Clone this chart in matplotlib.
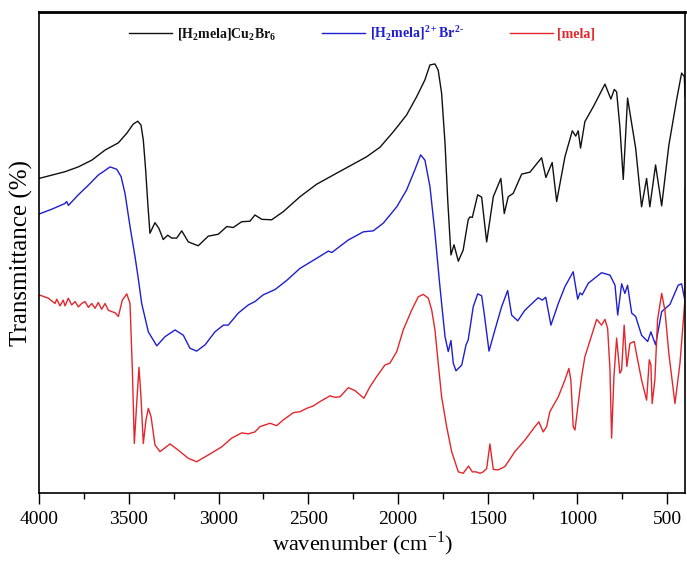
import matplotlib
matplotlib.use("Agg")
import matplotlib.pyplot as plt

plt.rcParams['font.family'] = ['Liberation Serif', 'DejaVu Serif']
plt.rcParams['mathtext.fontset'] = 'custom'
plt.rcParams['mathtext.rm'] = 'Liberation Serif'
plt.rcParams['mathtext.bf'] = 'Liberation Serif:bold'

# [H2mela]Cu2Br6
black_wn = [4000, 3855, 3781, 3706, 3632, 3558, 3511, 3475, 3450, 3432, 3419, 3406,
            3394, 3382, 3354, 3332, 3308, 3283, 3261, 3233, 3205, 3168, 3113, 3057,
            3001, 2954, 2918, 2871, 2825, 2797, 2759, 2704, 2639, 2546, 2453, 2361,
            2268, 2175, 2100, 2026, 1952, 1896, 1850, 1822, 1794, 1776, 1757, 1738,
            1723, 1705, 1688, 1664, 1637, 1609, 1599, 1586, 1556, 1534, 1506, 1469,
            1427, 1408, 1386, 1358, 1311, 1265, 1200, 1176, 1141, 1116, 1070, 1029,
            1010, 996, 983, 959, 912, 847, 814, 795, 782, 764, 745, 721, 702, 676,
            643, 615, 597, 565, 531, 491, 448, 420, 405, 400]
black_t = [65.4, 66.8, 67.8, 69.2, 71.3, 72.8, 74.8, 76.7, 77.3, 76.5, 73.4, 67.2,
           60.2, 54.0, 56.2, 55.0, 52.7, 53.6, 53.0, 53.0, 54.5, 52.2, 51.4, 53.4,
           53.8, 55.4, 55.2, 56.4, 56.5, 57.8, 56.9, 56.8, 58.5, 61.6, 64.2, 66.1,
           68.0, 69.9, 71.9, 75.1, 78.6, 82.4, 85.9, 89.0, 89.2, 87.9, 83.1, 72.7,
           60.9, 49.5, 51.6, 48.2, 50.5, 56.8, 57.4, 57.3, 62.0, 61.5, 52.2, 61.6,
           65.4, 58.1, 61.6, 62.3, 66.3, 66.7, 69.7, 65.6, 68.7, 60.6, 69.9, 75.3,
           74.2, 75.3, 71.7, 77.2, 80.3, 85.0, 81.9, 83.9, 83.4, 76.2, 65.2, 82.1,
           77.7, 71.7, 59.5, 65.4, 59.5, 68.2, 59.7, 72.3, 81.7, 87.3, 86.6, 82.4]

# [H2mela]2+Br2-
blue_wn = [4000, 3929, 3855, 3846, 3836, 3781, 3725, 3670, 3642, 3604, 3567, 3543,
           3521, 3493, 3465, 3447, 3428, 3391, 3344, 3298, 3242, 3196, 3159, 3122,
           3075, 3020, 2973, 2946, 2890, 2834, 2797, 2751, 2685, 2620, 2546, 2453,
           2388, 2368, 2351, 2277, 2193, 2138, 2082, 2007, 1952, 1906, 1874, 1850,
           1822, 1794, 1770, 1757, 1738, 1720, 1705, 1692, 1677, 1645, 1621, 1609,
           1581, 1556, 1534, 1520, 1493, 1460, 1423, 1389, 1367, 1333, 1293, 1219,
           1196, 1177, 1148, 1107, 1070, 1024, 999, 986, 974, 940, 866, 819, 791,
           776, 754, 736, 721, 698, 676, 643, 609, 591, 565, 531, 485, 439, 420, 402]
blue_t = [58.0, 59.0, 60.2, 60.6, 59.8, 62.0, 64.0, 66.1, 66.8, 67.8, 67.3, 65.8,
          62.3, 55.4, 49.1, 44.6, 39.4, 33.5, 30.6, 32.5, 33.9, 32.8, 30.1, 29.5,
          30.8, 33.5, 34.9, 34.9, 37.4, 39.1, 39.8, 41.2, 42.3, 44.2, 46.7, 48.8,
          50.3, 50.0, 50.5, 52.6, 54.3, 54.5, 56.1, 59.5, 63.0, 67.2, 70.3, 69.2,
          63.7, 54.0, 44.3, 39.4, 32.5, 29.4, 31.7, 27.0, 25.4, 26.6, 30.8, 31.8,
          38.7, 41.4, 41.0, 37.4, 29.5, 33.9, 38.7, 42.1, 37.0, 35.8, 38.0, 40.6,
          40.1, 40.7, 34.9, 39.4, 42.9, 46.0, 40.3, 41.6, 41.2, 43.6, 45.8, 45.3, 43.2,
          37.0, 43.5, 41.5, 43.2, 37.4, 36.7, 32.8, 31.5, 33.5, 30.8, 37.7, 39.2, 43.2, 43.5, 40.1]

# [mela]
red_wn = [4000, 3948, 3911, 3901, 3883, 3865, 3855, 3837, 3818, 3799, 3781, 3762,
          3744, 3725, 3706, 3688, 3670, 3651, 3632, 3614, 3595, 3577, 3558, 3536,
          3511, 3493, 3480, 3469, 3456, 3443, 3432, 3419, 3404, 3391, 3376, 3354,
          3326, 3270, 3224, 3168, 3122, 3057, 2982, 2927, 2871, 2834, 2797, 2769,
          2713, 2676, 2639, 2583, 2546, 2509, 2472, 2435, 2379, 2351, 2323, 2277,
          2240, 2190, 2156, 2119, 2073, 2045, 2007, 1971, 1924, 1887, 1859, 1831,
          1812, 1794, 1776, 1757, 1729, 1701, 1664, 1637, 1607, 1586, 1566, 1543,
          1525, 1506, 1488, 1469, 1442, 1404, 1349, 1293, 1237, 1215, 1191, 1172,
          1154, 1107, 1070, 1048, 1037, 1024, 1014, 996, 977, 959, 921, 893, 866,
          847, 832, 819, 810, 797, 782, 764, 754, 740, 725, 708, 684, 665, 643,
          615, 600, 591, 584, 569, 554, 531, 513, 491, 457, 429, 403, 400]
red_t = [41.2, 40.5, 39.4, 40.3, 38.9, 40.1, 38.9, 40.5, 39.1, 39.8, 38.7, 39.4,
         39.8, 38.6, 39.4, 38.4, 39.6, 38.2, 39.4, 38.0, 37.7, 37.5, 36.7, 40.1,
         41.4, 39.4, 25.6, 10.3, 18.6, 26.1, 20.0, 10.3, 15.2, 17.6, 15.9, 10.0,
         8.6, 10.2, 8.9, 7.2, 6.5, 7.9, 9.6, 11.4, 12.5, 12.3, 12.7, 13.8,
         14.5, 14.0, 15.2, 16.7, 16.9, 17.6, 18.1, 19.0, 20.2, 19.9, 20.0, 21.9,
         21.3, 19.7, 22.1, 24.2, 26.6, 27.0, 29.4, 33.9, 38.0, 40.8, 41.3, 40.5,
         38.0, 33.9, 27.0, 20.0, 13.8, 8.6, 4.4, 4.1, 5.6, 4.4, 4.4, 4.1,
         4.4, 5.1, 10.2, 4.9, 4.8, 5.5, 8.6, 11.0, 13.8, 14.8, 12.7, 13.8,
         16.9, 20.0, 23.5, 25.9, 23.5, 13.8, 13.1, 18.6, 24.2, 28.3, 32.8, 36.1, 34.9,
         36.1, 34.2, 25.6, 11.4, 24.2, 32.2, 24.9, 25.6, 34.9, 26.3, 31.1, 31.5, 27.7, 23.5,
         19.3, 27.7, 26.6, 18.6, 23.5, 36.0, 41.5, 38.0, 29.0, 18.6, 27.0, 39.4, 63.4]

labels = [r'[H$_\mathbf{2}$mela]Cu$_\mathbf{2}$Br$_\mathbf{6}$',
          r'[H$_\mathbf{2}$mela]$^\mathbf{2+}$Br$^\mathbf{2\text{-}}$',
          '[mela]']
colors = ['#111111', '#1e1ed2', '#e3262b']
xticks = [4000, 3500, 3000, 2500, 2000, 1500, 1000, 500]


def main():
    fig = plt.figure(figsize=(6.87, 5.61), dpi=100)
    ax = fig.add_axes([0.0568, 0.1212, 0.9403, 0.8574])

    for wn, t, lab, c in zip([black_wn, blue_wn, red_wn], [black_t, blue_t, red_t], labels, colors):
        ax.plot(wn, t, color=c, lw=1.0, label=lab)

    ax.set_xlim(4000, 401)
    ax.set_ylim(0, 100)
    ax.set_xticks(xticks)
    ax.set_xticks(range(3750, 400, -500), minor=True)
    ax.set_yticks([])
    ax.tick_params(axis='x', which='major', direction='out', length=8, width=1.0,
                   labelsize=14, pad=5)
    ax.tick_params(axis='x', which='minor', direction='out', length=4, width=1.0)
    for s in ax.spines.values():
        s.set_linewidth(1.2)
    ax.spines['top'].set_linewidth(2.0)

    ax.set_xlabel('wavenumber (cm$^{-1}$)', fontsize=16, labelpad=1)
    ax.set_ylabel('Transmittance (%)', fontsize=18, labelpad=4)

    ax.legend(loc='center left', bbox_to_anchor=(0.139, 0.956), ncol=3,
              frameon=False, borderpad=0, borderaxespad=0, handlelength=3.1,
              handletextpad=0.35, columnspacing=3.3, labelcolor='linecolor',
              prop={'weight': 'bold', 'size': 10})

    fig.savefig('out.png', dpi=100)


if __name__ == "__main__":
    main()
